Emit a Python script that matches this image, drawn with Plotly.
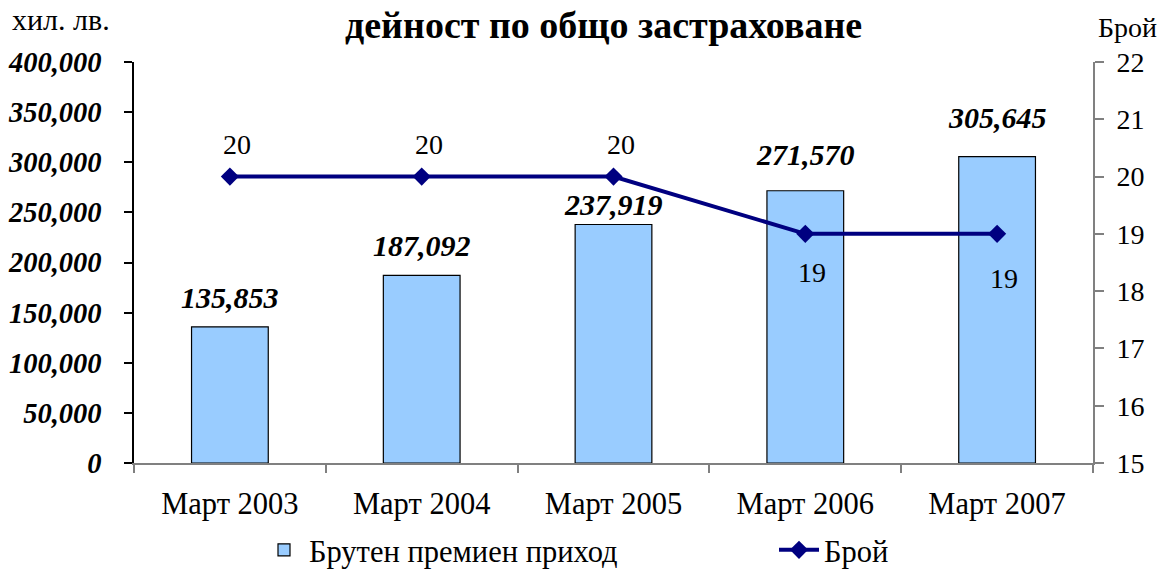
import plotly.graph_objects as go

categories = ["Март 2003", "Март 2004", "Март 2005", "Март 2006", "Март 2007"]
premium = [135853, 187092, 237919, 271570, 305645]
count = [20, 20, 20, 19, 19]

title_text = "дейност по общо застраховане"
left_unit = "хил. лв."
right_unit = "Брой"
bar_name = "Брутен премиен приход"
line_name = "Брой"

# style: label offsets (px)
bar_label_shift = [11, 11, 1, 18, 21]
line_label_shift = [15, 15, 15, -21, -27]

SERIF = "Liberation Serif"
L, R, T, B = 134, 70, 62, 106

fig = go.Figure()
fig.add_trace(go.Bar(
    x=categories, y=premium, name=bar_name, width=0.4,
    marker=dict(color="#99CCFF", line=dict(color="black", width=1.2)),
    yaxis="y", xaxis="x", legend="legend",
))
fig.add_trace(go.Scatter(
    x=categories, y=count, name=line_name, mode="lines+markers",
    line=dict(color="#000080", width=4),
    marker=dict(symbol="diamond", size=14, color="#000080"),
    yaxis="y2", xaxis="x", legend="legend2",
))

annotations = []
for c, v, s in zip(categories, premium, bar_label_shift):
    annotations.append(dict(
        x=c, y=v, xref="x", yref="y", text=f"{v:,}", showarrow=False,
        yanchor="bottom", yshift=s,
        font=dict(family=SERIF, size=30, color="black", weight="bold", style="italic"),
    ))
for c, v, s in zip(categories, count, line_label_shift):
    annotations.append(dict(
        x=c, y=v, xref="x", yref="y2", text=str(v), showarrow=False,
        yanchor="bottom" if s > 0 else "top", yshift=s, xshift=7,
        font=dict(family=SERIF, size=28, color="black"),
    ))
annotations.append(dict(
    x=-0.076, y=1.105, xref="paper", yref="paper", text=left_unit, showarrow=False,
    xanchor="center", yanchor="middle", font=dict(family=SERIF, size=30, color="black"),
))
annotations.append(dict(
    x=1.036, y=1.085, xref="paper", yref="paper", text=right_unit, showarrow=False,
    xanchor="center", yanchor="middle", font=dict(family=SERIF, size=28, color="black"),
))
annotations.append(dict(
    x=0.49, y=1.0, xref="paper", yref="paper", text=title_text, showarrow=False,
    xanchor="center", yanchor="bottom", yshift=14,
    font=dict(family=SERIF, size=38, color="black", weight="bold"),
))

legend_common = dict(
    orientation="h", xref="container", yref="container",
    xanchor="left", y=1 - 550 / 569, yanchor="middle",
    font=dict(family=SERIF, size=30.5, color="black"),
    bgcolor="rgba(0,0,0,0)", itemwidth=40,
)

fig.update_layout(
    width=1163, height=569,
    margin=dict(l=L, r=R, t=T, b=B, autoexpand=False),
    paper_bgcolor="white", plot_bgcolor="white",
    xaxis=dict(
        type="category", range=[-0.5, 4.5], showgrid=False,
        showline=True, linecolor="#808080", linewidth=2,
        ticks="outside", ticklen=8, tickcolor="#808080", tickwidth=2, tickson="boundaries",
        tickfont=dict(family=SERIF, size=30.5, color="black"), ticklabelstandoff=12,
    ),
    xaxis2=dict(
        overlaying="x", anchor="y", side="bottom", range=[-0.5, 4.5],
        tickmode="linear", tick0=0.5, dtick=1,
        ticks="inside", ticklen=8, tickcolor="#808080", tickwidth=2,
        showticklabels=False, showgrid=False, showline=False, zeroline=False,
    ),
    yaxis=dict(
        range=[0, 400000], dtick=50000, tickformat=",", showgrid=False, zeroline=False,
        showline=True, linecolor="black", linewidth=1.5,
        ticks="outside", ticklen=8, tickcolor="black", tickwidth=1.5,
        tickfont=dict(family=SERIF, size=28.5, color="black", weight="bold", style="italic"),
        ticklabelstandoff=17,
    ),
    yaxis3=dict(
        overlaying="y", anchor="x", side="left", range=[0, 400000], dtick=50000,
        ticks="inside", ticklen=10, tickcolor="black", tickwidth=1.5,
        showticklabels=False, showgrid=False, showline=False, zeroline=False,
    ),
    yaxis2=dict(
        overlaying="y", anchor="x", side="right", range=[15, 22], dtick=1,
        showgrid=False, zeroline=False,
        showline=True, linecolor="#808080", linewidth=2,
        ticks="outside", ticklen=9, tickcolor="#808080", tickwidth=1.5,
        tickfont=dict(family=SERIF, size=28, color="black"), ticklabelstandoff=7,
    ),
    yaxis4=dict(
        overlaying="y", anchor="x", side="right", range=[15, 22], dtick=1,
        ticks="inside", ticklen=10, tickcolor="#808080", tickwidth=1.5,
        showticklabels=False, showgrid=False, showline=False, zeroline=False,
    ),
    legend=dict(legend_common, x=259 / 1163),
    legend2=dict(legend_common, x=774 / 1163),
    annotations=annotations,
    showlegend=True,
)

fig.write_html("out.html", config={"displayModeBar": False},
               post_script="document.body.style.margin='0';")
